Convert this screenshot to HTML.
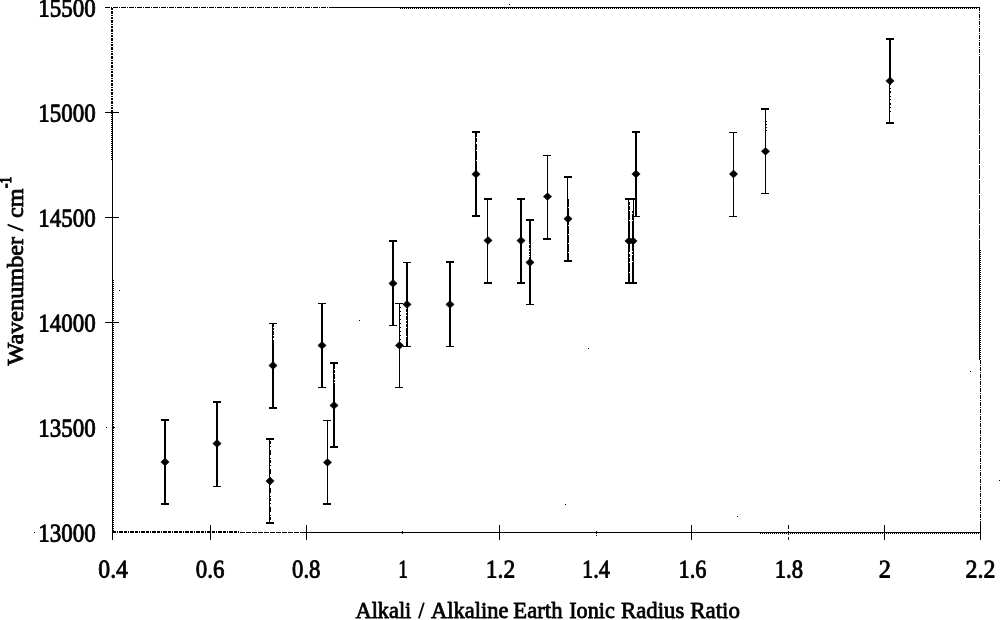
<!DOCTYPE html>
<html lang="en"><head><meta charset="utf-8"><title>Wavenumber vs Alkali / Alkaline Earth Ionic Radius Ratio</title>
<style>html,body{margin:0;padding:0;background:#fff;overflow:hidden}svg{display:block}text{font-family:"Liberation Serif", "DejaVu Serif", serif;fill:#000;stroke:#000;stroke-linejoin:round}.y{font-weight:normal;stroke-width:0.85px}.x{font-weight:normal;stroke-width:0.85px}.t{font-weight:normal;stroke-width:0.85px}.s{font-weight:normal;stroke-width:1.29px}</style>
</head><body>
<svg width="1000" height="620" viewBox="0 0 1000 620">
<rect width="1000" height="620" fill="#fff"/>
<g shape-rendering="crispEdges" fill="none">
<line x1="105" y1="7.5" x2="330" y2="7.5" stroke="#000" stroke-width="1" stroke-dasharray="5 1 1 1"/>
<line x1="330" y1="7.5" x2="980" y2="7.5" stroke="#000" stroke-width="1"/>
<line x1="400" y1="8.5" x2="978" y2="8.5" stroke="#000" stroke-width="1" stroke-dasharray="1 1"/>
<line x1="979.5" y1="7" x2="979.5" y2="60" stroke="#000" stroke-width="1" stroke-dasharray="4 1 1 1"/>
<line x1="979.5" y1="60" x2="979.5" y2="250" stroke="#000" stroke-width="1" stroke-dasharray="14 1"/>
<line x1="979.5" y1="250" x2="979.5" y2="360" stroke="#000" stroke-width="1"/>
<line x1="980.5" y1="250" x2="980.5" y2="360" stroke="#000" stroke-width="1" stroke-dasharray="1 1"/>
<line x1="980.5" y1="360" x2="980.5" y2="524" stroke="#000" stroke-width="1" stroke-dasharray="4 1 1 1"/>
<line x1="980.5" y1="524" x2="980.5" y2="540" stroke="#000" stroke-width="1"/>
<line x1="112" y1="8" x2="112" y2="112" stroke="#000" stroke-width="2" stroke-dasharray="2 1 3 1 1 1"/>
<line x1="112.5" y1="112" x2="112.5" y2="540" stroke="#000" stroke-width="1"/>
<line x1="111.5" y1="113" x2="111.5" y2="160" stroke="#000" stroke-width="1" stroke-dasharray="1 1"/>
<line x1="113.5" y1="280" x2="113.5" y2="531" stroke="#000" stroke-width="1" stroke-dasharray="1 1"/>
<line x1="113" y1="532" x2="240" y2="532" stroke="#000" stroke-width="2" stroke-dasharray="3 1 1 1 4 1"/>
<line x1="240" y1="532.5" x2="300" y2="532.5" stroke="#000" stroke-width="1" stroke-dasharray="5 1"/>
<line x1="300" y1="532.5" x2="981" y2="532.5" stroke="#000" stroke-width="1"/>
<line x1="760" y1="533.5" x2="979" y2="533.5" stroke="#000" stroke-width="1" stroke-dasharray="1 1"/>
<line x1="105" y1="112.5" x2="119" y2="112.5" stroke="#000" stroke-width="1"/>
<line x1="105" y1="217.5" x2="119" y2="217.5" stroke="#000" stroke-width="1"/>
<line x1="105" y1="322.5" x2="119" y2="322.5" stroke="#000" stroke-width="1"/>
<line x1="106" y1="427.5" x2="108" y2="427.5" stroke="#000" stroke-width="1" stroke-dasharray="1 1"/>
<line x1="113" y1="427.5" x2="115" y2="427.5" stroke="#000" stroke-width="1"/>
<line x1="210.5" y1="525" x2="210.5" y2="540" stroke="#000" stroke-width="1"/>
<line x1="306.5" y1="525" x2="306.5" y2="540" stroke="#000" stroke-width="1"/>
<line x1="499.5" y1="525" x2="499.5" y2="540" stroke="#000" stroke-width="1"/>
<line x1="691.5" y1="525" x2="691.5" y2="540" stroke="#000" stroke-width="1"/>
<line x1="884.5" y1="525" x2="884.5" y2="540" stroke="#000" stroke-width="1"/>
<line x1="788.5" y1="525" x2="788.5" y2="540" stroke="#000" stroke-width="1" stroke-dasharray="4 2"/>
<line x1="402.5" y1="531" x2="402.5" y2="534" stroke="#000" stroke-width="1"/>
<line x1="596.5" y1="531" x2="596.5" y2="536" stroke="#000" stroke-width="1" stroke-dasharray="3 1 1 0"/>
</g>
<g shape-rendering="crispEdges" fill="#000" stroke="none">
<rect x="164" y="419" width="1" height="86"/>
<rect x="165" y="419" width="1" height="86"/>
<rect x="161" y="419" width="8" height="2"/>
<rect x="161" y="503" width="8" height="2"/>
<rect x="216" y="401" width="1" height="86"/>
<rect x="217" y="401" width="1" height="86"/>
<rect x="213" y="401" width="8" height="2"/>
<rect x="213" y="486" width="8" height="1"/>
<rect x="269" y="438" width="1" height="86"/>
<line x1="270.5" y1="441" x2="270.5" y2="521" stroke="#000" stroke-width="1" stroke-dasharray="3 2 1 3 5 3 1 1"/>
<rect x="266" y="438" width="8" height="2"/>
<rect x="266" y="522" width="8" height="2"/>
<rect x="272" y="323" width="1" height="86"/>
<line x1="273.5" y1="324" x2="273.5" y2="408" stroke="#000" stroke-width="1" stroke-dasharray="3 1 2 1 4 1 2 2 70 0"/>
<rect x="269" y="323" width="8" height="1"/>
<rect x="269" y="407" width="8" height="2"/>
<rect x="321" y="303" width="1" height="85"/>
<rect x="322" y="303" width="1" height="85"/>
<rect x="318" y="303" width="8" height="1"/>
<rect x="318" y="387" width="8" height="1"/>
<rect x="327" y="420" width="1" height="85"/>
<rect x="323" y="420" width="8" height="1"/>
<rect x="323" y="503" width="8" height="2"/>
<rect x="333" y="362" width="1" height="86"/>
<line x1="334.5" y1="363" x2="334.5" y2="447" stroke="#000" stroke-width="1" stroke-dasharray="6 1 3 1 5 1 2 1 70 0"/>
<rect x="330" y="362" width="8" height="2"/>
<rect x="330" y="446" width="8" height="2"/>
<rect x="392" y="240" width="1" height="86"/>
<rect x="393" y="240" width="1" height="86"/>
<rect x="389" y="240" width="8" height="2"/>
<rect x="389" y="325" width="8" height="1"/>
<rect x="399" y="303" width="1" height="85"/>
<line x1="400.5" y1="303" x2="400.5" y2="345" stroke="#000" stroke-width="1" stroke-dasharray="1 3"/>
<rect x="395" y="303" width="8" height="1"/>
<rect x="395" y="387" width="8" height="1"/>
<rect x="407" y="262" width="1" height="85"/>
<line x1="406.5" y1="262" x2="406.5" y2="346" stroke="#000" stroke-width="1" stroke-dasharray="46 1 3 1 2 1 4 1 2 1 3 1 8 1"/>
<rect x="403" y="262" width="8" height="1"/>
<rect x="403" y="346" width="8" height="1"/>
<rect x="449" y="261" width="1" height="86"/>
<rect x="450" y="261" width="1" height="86"/>
<rect x="446" y="261" width="8" height="2"/>
<rect x="446" y="346" width="8" height="1"/>
<rect x="475" y="131" width="1" height="86"/>
<line x1="476.5" y1="132" x2="476.5" y2="216" stroke="#000" stroke-width="1" stroke-dasharray="5 1 4 2 6 1 9 1 13 1 50 0"/>
<rect x="472" y="131" width="8" height="2"/>
<rect x="472" y="215" width="8" height="2"/>
<rect x="487" y="198" width="1" height="86"/>
<rect x="484" y="198" width="8" height="2"/>
<rect x="484" y="282" width="8" height="2"/>
<rect x="520" y="198" width="1" height="86"/>
<rect x="521" y="198" width="1" height="86"/>
<rect x="517" y="198" width="8" height="2"/>
<rect x="517" y="282" width="8" height="2"/>
<rect x="530" y="219" width="1" height="86"/>
<line x1="529.5" y1="220" x2="529.5" y2="304" stroke="#000" stroke-width="1" stroke-dasharray="24 1 3 1 2 1 2 1 1 1 2 1 44 0"/>
<rect x="526" y="219" width="8" height="2"/>
<rect x="526" y="304" width="8" height="1"/>
<rect x="547" y="155" width="1" height="85"/>
<rect x="543" y="155" width="8" height="1"/>
<rect x="543" y="238" width="8" height="2"/>
<rect x="567" y="176" width="1" height="86"/>
<line x1="568.5" y1="199" x2="568.5" y2="261" stroke="#000" stroke-width="1" stroke-dasharray="8 1"/>
<rect x="564" y="176" width="8" height="2"/>
<rect x="564" y="260" width="8" height="2"/>
<rect x="628" y="198" width="1" height="86"/>
<line x1="629.5" y1="199" x2="629.5" y2="283" stroke="#000" stroke-width="1" stroke-dasharray="1 2 3 1 4 1 9 1 30 0"/>
<rect x="625" y="198" width="8" height="2"/>
<rect x="625" y="282" width="8" height="2"/>
<rect x="633" y="198" width="1" height="86"/>
<line x1="632.5" y1="211" x2="632.5" y2="283" stroke="#000" stroke-width="1" stroke-dasharray="2 1 6 1 30 1"/>
<rect x="629" y="198" width="8" height="2"/>
<rect x="629" y="282" width="8" height="2"/>
<rect x="635" y="131" width="1" height="86"/>
<rect x="636" y="131" width="1" height="86"/>
<rect x="632" y="131" width="8" height="2"/>
<rect x="632" y="216" width="8" height="1"/>
<rect x="733" y="132" width="1" height="85"/>
<rect x="729" y="132" width="8" height="1"/>
<rect x="729" y="216" width="8" height="1"/>
<rect x="765" y="108" width="1" height="86"/>
<line x1="766.5" y1="121" x2="766.5" y2="131" stroke="#000" stroke-width="1" stroke-dasharray="1 2"/>
<rect x="761" y="108" width="8" height="2"/>
<rect x="761" y="193" width="8" height="1"/>
<rect x="889" y="38" width="1" height="86"/>
<line x1="890.5" y1="39" x2="890.5" y2="123" stroke="#000" stroke-width="1" stroke-dasharray="46 3 1 2 2 3 1 2 1 3 2 2 1 3 1 10"/>
<rect x="886" y="38" width="8" height="2"/>
<rect x="886" y="122" width="8" height="2"/>
</g>
<g fill="#000" stroke="#000" stroke-width="0.5" stroke-linejoin="round">
<path d="M160.80 462.00L165.00 458.10L169.20 462.00L165.00 465.90Z"/>
<path d="M212.80 443.50L217.00 439.60L221.20 443.50L217.00 447.40Z"/>
<path d="M265.80 481.00L270.00 477.10L274.20 481.00L270.00 484.90Z"/>
<path d="M268.80 365.50L273.00 361.60L277.20 365.50L273.00 369.40Z"/>
<path d="M317.80 345.40L322.00 341.50L326.20 345.40L322.00 349.30Z"/>
<path d="M323.30 462.40L327.50 458.50L331.70 462.40L327.50 466.30Z"/>
<path d="M329.80 405.40L334.00 401.50L338.20 405.40L334.00 409.30Z"/>
<path d="M388.80 283.40L393.00 279.50L397.20 283.40L393.00 287.30Z"/>
<path d="M395.30 345.40L399.50 341.50L403.70 345.40L399.50 349.30Z"/>
<path d="M402.80 304.40L407.00 300.50L411.20 304.40L407.00 308.30Z"/>
<path d="M445.80 304.40L450.00 300.50L454.20 304.40L450.00 308.30Z"/>
<path d="M471.80 174.20L476.00 170.30L480.20 174.20L476.00 178.10Z"/>
<path d="M483.80 240.50L488.00 236.60L492.20 240.50L488.00 244.40Z"/>
<path d="M516.80 240.60L521.00 236.70L525.20 240.60L521.00 244.50Z"/>
<path d="M525.80 262.40L530.00 258.50L534.20 262.40L530.00 266.30Z"/>
<path d="M543.30 196.60L547.50 192.70L551.70 196.60L547.50 200.50Z"/>
<path d="M563.80 218.80L568.00 214.90L572.20 218.80L568.00 222.70Z"/>
<path d="M624.80 241.00L629.00 237.10L633.20 241.00L629.00 244.90Z"/>
<path d="M628.80 241.00L633.00 237.10L637.20 241.00L633.00 244.90Z"/>
<path d="M631.80 174.00L636.00 170.10L640.20 174.00L636.00 177.90Z"/>
<path d="M729.30 174.00L733.50 170.10L737.70 174.00L733.50 177.90Z"/>
<path d="M761.30 151.30L765.50 147.40L769.70 151.30L765.50 155.20Z"/>
<path d="M885.80 80.90L890.00 77.00L894.20 80.90L890.00 84.80Z"/>
</g>
<g shape-rendering="crispEdges" fill="#000">
<rect x="34" y="532" width="1" height="1"/>
<rect x="359" y="320" width="1" height="1"/>
<rect x="588" y="348" width="1" height="1"/>
<rect x="565" y="504" width="1" height="1"/>
<rect x="737" y="516" width="1" height="1"/>
<rect x="970" y="371" width="1" height="1"/>
<rect x="999" y="480" width="1" height="1"/>
<rect x="509" y="4" width="1" height="1"/>
<rect x="119" y="290" width="1" height="1"/>
</g>
<g class="y" font-size="25">
<text transform="matrix(0.9195 0.0005 0 1.0200 38.191 16.500)">15500</text>
<text transform="matrix(0.9195 0.0005 0 1.0200 38.191 121.500)">15000</text>
<text transform="matrix(0.9195 0.0005 0 1.0200 38.191 226.500)">14500</text>
<text transform="matrix(0.9195 0.0005 0 1.0200 38.191 331.500)">14000</text>
<text transform="matrix(0.9195 0.0005 0 1.0200 38.191 436.500)">13500</text>
<text transform="matrix(0.9195 0.0005 0 1.0200 38.191 541.500)">13000</text>
</g>
<g class="x" font-size="25">
<text transform="matrix(0.9512 0.0005 0 1.0200 98.274 577.500)">0.4</text>
<text transform="matrix(0.9180 0.0005 0 1.0200 195.791 577.500)">0.6</text>
<text transform="matrix(0.9091 0.0005 0 1.0200 292.045 577.500)">0.8</text>
<text transform="matrix(0.7692 0.0005 0 1.0200 398.154 577.500)">1</text>
<text transform="matrix(0.9386 0.0005 0 1.0200 485.857 577.500)">1.2</text>
<text transform="matrix(0.8983 0.0005 0 1.0200 581.928 577.500)">1.4</text>
<text transform="matrix(0.8974 0.0005 0 1.0200 678.429 577.500)">1.6</text>
<text transform="matrix(0.9052 0.0005 0 1.0200 774.666 577.500)">1.8</text>
<text transform="matrix(0.9767 0.0005 0 1.0200 878.767 577.500)">2</text>
<text transform="matrix(0.9576 0.0005 0 1.0200 965.532 577.500)">2.2</text>
</g>
<text class="t" font-size="25" transform="matrix(1 0.0001 0 0.9350 0 618.145)"><tspan x="355.52" textLength="55.78" lengthAdjust="spacingAndGlyphs">Alkali</tspan> <tspan x="418.61" textLength="5.74" lengthAdjust="spacingAndGlyphs">/</tspan> <tspan x="431.02" textLength="77.38" lengthAdjust="spacingAndGlyphs">Alkaline</tspan> <tspan x="513.37" textLength="49.13" lengthAdjust="spacingAndGlyphs">Earth</tspan> <tspan x="569.16" textLength="45.58" lengthAdjust="spacingAndGlyphs">Ionic</tspan> <tspan x="620.97" textLength="63.34" lengthAdjust="spacingAndGlyphs">Radius</tspan> <tspan x="690.17" textLength="49.72" lengthAdjust="spacingAndGlyphs">Ratio</tspan></text>
<text class="t" font-size="25" transform="matrix(0.0002 -0.9692 0.9647 0 23.018 365.415)">Wavenumber / cm<tspan class="s" font-size="17.23" x="183.16" y="-12.01" textLength="11.67" lengthAdjust="spacingAndGlyphs">-1</tspan></text>
</svg>
</body></html>
